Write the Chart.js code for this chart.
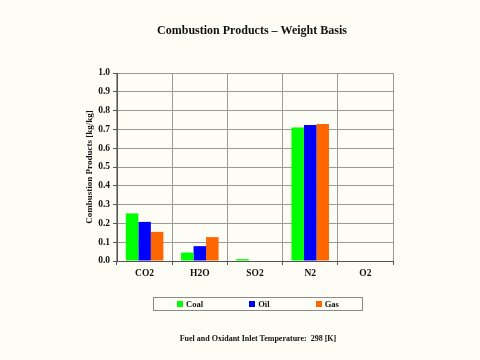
<!DOCTYPE html>
<html>
<head>
<meta charset="utf-8">
<script src="https://cdn.jsdelivr.net/npm/chart.js@4.4.1/dist/chart.umd.min.js"></script>
<style>
  html, body { margin: 0; padding: 0; background: #fdfdf5; width: 480px; height: 360px; overflow: hidden; }
  #wrap { position: relative; width: 480px; height: 360px; }
  canvas { position: absolute; left: 0; top: 0; }
  #legend {
    position: absolute; left: 153px; top: 297px; width: 210px; height: 14px;
    box-sizing: border-box; border: 1px solid #8a8a8a;
    display: flex; justify-content: space-around; align-items: center;
    font: bold 8.5px "Liberation Serif", "Times New Roman", serif; color: #111;
  }
  .item { display: flex; align-items: center; }
  .sw { width: 6px; height: 6px; margin-right: 3px; }
  #footer {
    position: absolute; left: 158px; width: 200px; top: 334px; text-align: center;
    font: bold 8px "Liberation Serif", "Times New Roman", serif; color: #111; white-space: pre;
  }
</style>
</head>
<body>
<div id="wrap">
  <canvas id="c" width="480" height="360"></canvas>
  <div id="legend"></div>
  <div id="footer"></div>
</div>
<script>
const categories = ["CO2", "H2O", "SO2", "N2", "O2"];
const coal = [0.253, 0.045, 0.010, 0.710, 0.0];
const oil  = [0.208, 0.079, 0.0, 0.723, 0.0];
const gas  = [0.155, 0.127, 0.0, 0.729, 0.0];
const seriesNames = ["Coal", "Oil", "Gas"];
const seriesColors = ["#00ff00", "#0000ff", "#ff6600"];
const titleText = "Combustion Products \u2013 Weight Basis";
const yTitle = "Combustion Products [kg/kg]";
const footerText = "Fuel and Oxidant Inlet Temperature:  298 [K]";

const serif = '"Liberation Serif", "Times New Roman", serif';
const seriesData = [coal, oil, gas];

const legend = document.getElementById('legend');
seriesNames.forEach((n, i) => {
  const it = document.createElement('div'); it.className = 'item';
  const sw = document.createElement('div'); sw.className = 'sw'; sw.style.background = seriesColors[i];
  const tx = document.createElement('span'); tx.textContent = n;
  it.appendChild(sw); it.appendChild(tx); legend.appendChild(it);
});
document.getElementById('footer').textContent = footerText;

new Chart(document.getElementById('c'), {
  type: 'bar',
  data: {
    labels: categories,
    datasets: seriesNames.map((n, i) => ({
      label: n,
      data: seriesData[i],
      backgroundColor: seriesColors[i],
      borderWidth: 0,
      categoryPercentage: 0.68,
      barPercentage: 1.0
    }))
  },
  options: {
    responsive: false,
    animation: false,
    devicePixelRatio: 1,
    layout: { padding: { left: 24, right: 0, top: 10, bottom: 81 } },
    plugins: {
      legend: { display: false },
      tooltip: { enabled: false },
      title: {
        display: true, text: titleText, color: '#111',
        font: { family: serif, size: 12, weight: 'bold' },
        padding: { top: 14, bottom: 34.6 }
      }
    },
    scales: {
      x: {
        grid: { color: '#9a9a9a', tickColor: '#555', tickLength: 4, offset: true },
        border: { color: '#555' },
        ticks: { color: '#111', font: { family: serif, size: 9.5, weight: 'bold' }, padding: 3, maxRotation: 0 },
        afterFit: s => { s.height = 18; }
      },
      y: {
        min: 0, max: 1,
        ticks: { stepSize: 0.1, color: '#111', font: { family: serif, size: 9.5, weight: 'bold' }, padding: 3,
                 callback: v => Number(v).toFixed(1) },
        grid: { color: '#9a9a9a', tickColor: '#555', tickLength: 4 },
        border: { color: '#555' },
        title: { display: true, text: yTitle, color: '#111',
                 font: { family: serif, size: 9, weight: 'bold' }, padding: { top: 60.6, bottom: 4 } },
        afterFit: s => { s.width = 93; }
      },
      yR: {
        position: 'right', display: true,
        grid: { display: false }, border: { display: false }, ticks: { display: false },
        afterFit: s => { s.width = 87; }
      }
    }
  }
});
</script>
</body>
</html>
